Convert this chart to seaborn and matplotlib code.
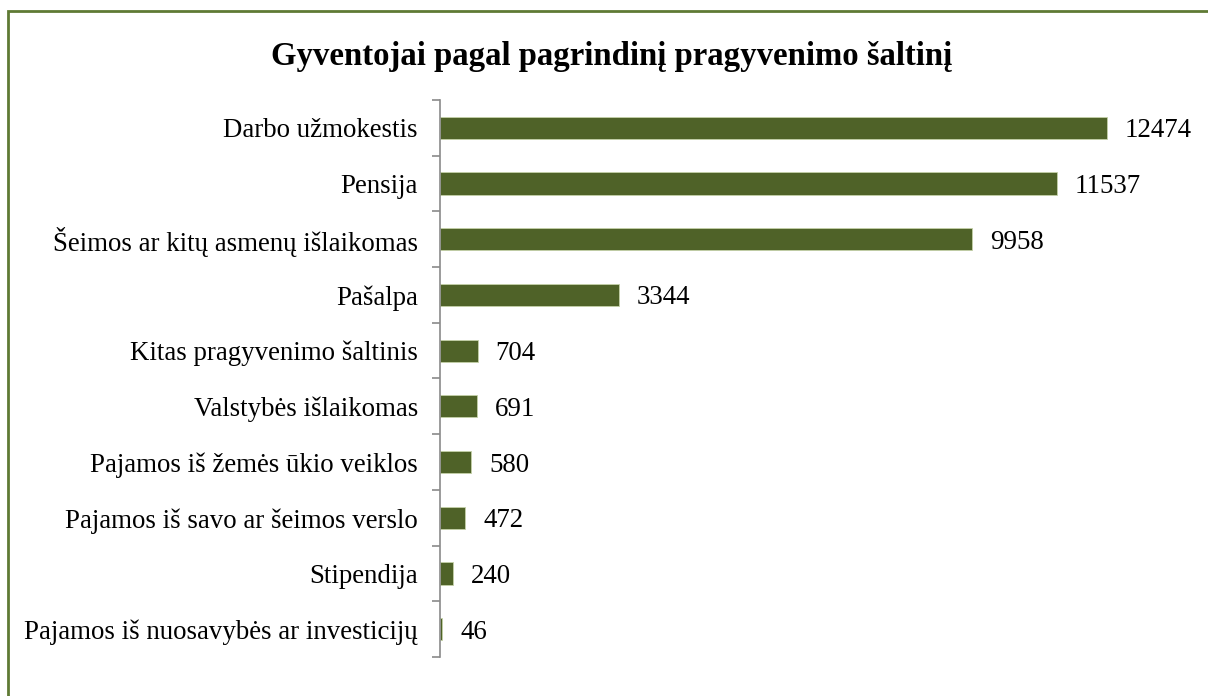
import matplotlib
matplotlib.use("Agg")
import matplotlib.pyplot as plt
import seaborn as sns
import pandas as pd
import numpy as np
from matplotlib.patches import Rectangle

categories = [
    "Darbo užmokestis",
    "Pensija",
    "Šeimos ar kitų asmenų išlaikomas",
    "Pašalpa",
    "Kitas pragyvenimo šaltinis",
    "Valstybės išlaikomas",
    "Pajamos iš žemės ūkio veiklos",
    "Pajamos iš savo ar šeimos verslo",
    "Stipendija",
    "Pajamos iš nuosavybės ar investicijų",
]
values = [12474, 11537, 9958, 3344, 704, 691, 580, 472, 240, 46]
title = "Gyventojai pagal pagrindinį pragyvenimo šaltinį"

sns.set_theme(style="white")
plt.rcParams["font.family"] = ["Liberation Serif", "DejaVu Serif"]

W, H = 1208, 696
fig = plt.figure(figsize=(W / 100, H / 100), dpi=100)
fig.patch.set_facecolor("white")

# border (top & left visible)
fig.add_artist(Rectangle((8 / W, -0.05), 1.2, (H - 11) / H + 0.05,
                         transform=fig.transFigure, fill=False,
                         edgecolor="#5f7a34", linewidth=2.0))

ax_l, ax_r = 440, 440 + 14000 * (1107 - 440) / 12474
ax_t, ax_b = 100, 657
ax = fig.add_axes([ax_l / W, (H - ax_b) / H, (ax_r - ax_l) / W, (ax_b - ax_t) / H])

df = pd.DataFrame({"cat": categories, "val": values})
sns.barplot(data=df, y="cat", x="val", orient="h", color="#4f6228",
            saturation=1, width=0.4, edgecolor="#c4d1a8", linewidth=0.6, ax=ax)

ax.set_xlim(0, 14000)
ax.set_ylim(len(categories) - 0.5, -0.5)
ax.set_xlabel("")
ax.set_ylabel("")
ax.set_xticks([])
for s in ["top", "right", "bottom"]:
    ax.spines[s].set_visible(False)
ax.spines["left"].set_color("#8a8a8a")
ax.spines["left"].set_linewidth(1.2)

ax.set_yticks(np.arange(-0.5, len(categories), 1.0), minor=True)
ax.tick_params(axis="y", which="major", length=0, pad=16, labelsize=19.4, labelcolor="black")
ax.tick_params(axis="y", which="minor", length=6, width=1.2, color="#8a8a8a", left=True)
for lbl in ax.get_yticklabels():
    lbl.set_va("center_baseline")

for c in ax.containers:
    texts = ax.bar_label(c, labels=[str(v) for v in values], padding=13, fontsize=19.4,
                         color="black")
    for t in texts:
        t.set_va("center_baseline")

fig.text(612 / W, 1 - 57 / H, title, ha="center", va="center",
         fontsize=23.6, fontweight="bold", color="black")

fig.savefig("out.png", dpi=100, facecolor="white")
